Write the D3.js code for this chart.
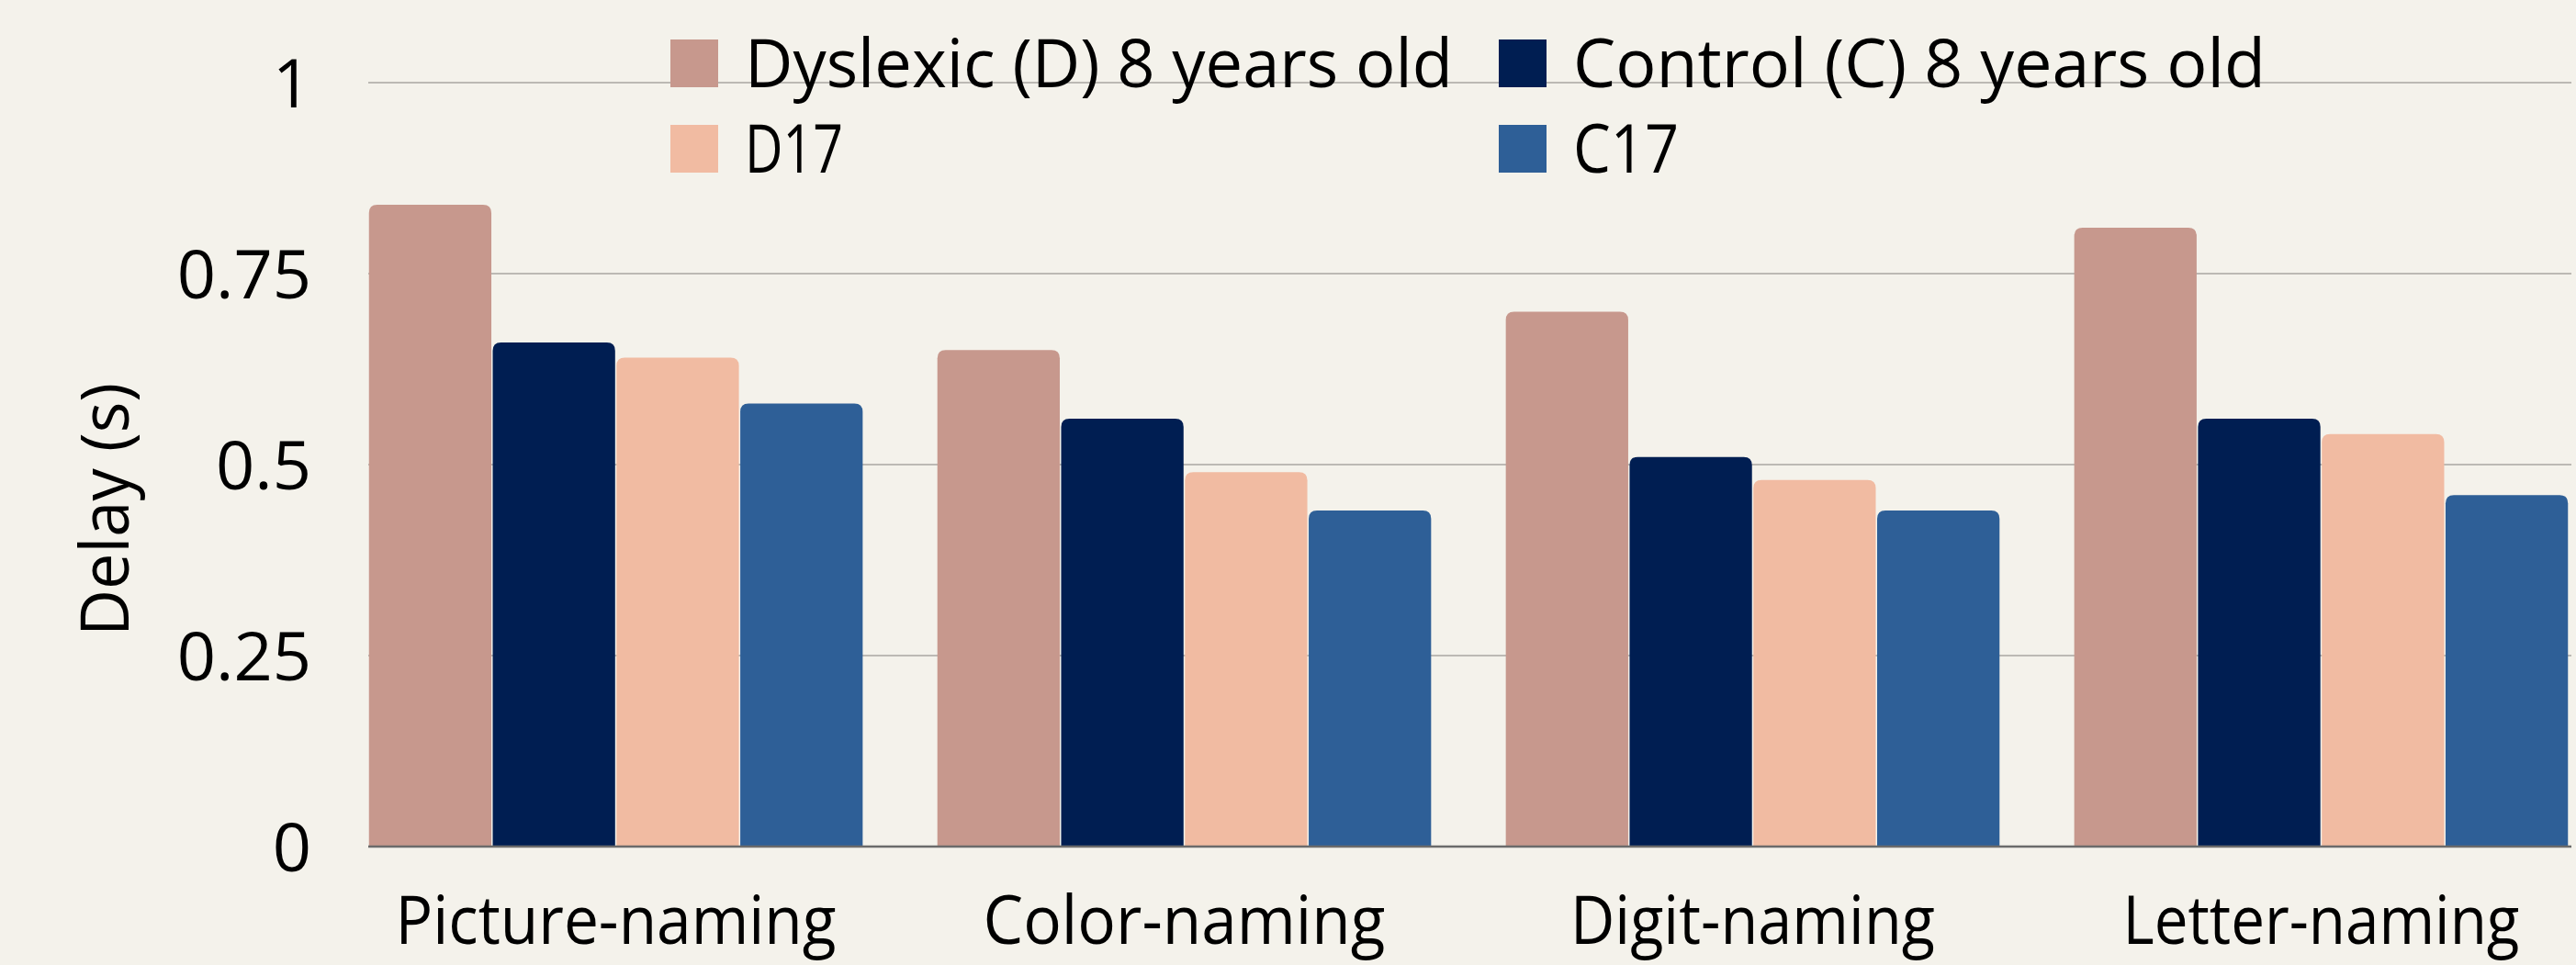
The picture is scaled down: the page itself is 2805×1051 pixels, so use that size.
<!DOCTYPE html>
<html>
<head>
<meta charset="utf-8">
<script src="https://cdn.jsdelivr.net/npm/d3@7"></script>
<style>
  html, body { margin: 0; padding: 0; background: #F4F2EB; }
  svg text { font-family: "Open Sans", "DejaVu Sans", sans-serif; fill: #000; }
</style>
</head>
<body>
<svg id="chart"></svg>
<script>
// Naming delay by task and group
var tasks = ["Picture-naming", "Color-naming", "Digit-naming", "Letter-naming"];
var seriesNames = ["Dyslexic (D) 8 years old", "Control (C) 8 years old", "D17", "C17"];
var d8Values = [0.84, 0.65, 0.70, 0.81];
var c8Values = [0.66, 0.56, 0.51, 0.56];
var d17Values = [0.64, 0.49, 0.48, 0.54];
var c17Values = [0.58, 0.44, 0.44, 0.46];
var yTicks = [0, 0.25, 0.5, 0.75, 1];
var yTickLabels = ["0", "0.25", "0.5", "0.75", "1"];

var seriesValues = [d8Values, c8Values, d17Values, c17Values];
var colors = ["#C7988D", "#001E52", "#F1BBA2", "#2E5F97"];

var width = 2805;
var height = 1051;
var margin = {top: 90, right: 5, bottom: 129, left: 401};

var svg = d3.select("#chart")
            .attr("width", width)
            .attr("height", height);

svg.append("rect")
   .attr("width", width)
   .attr("height", height)
   .attr("fill", "#F4F2EB");

var x0 = d3.scaleBand()
           .domain(tasks)
           .range([margin.left, 2797])
           .paddingInner(0.129)
           .paddingOuter(0);

var x1 = d3.scaleBand()
           .domain(d3.range(seriesNames.length))
           .range([0, x0.bandwidth()])
           .padding(0);

var y = d3.scaleLinear()
          .domain([0, 1])
          .range([height - margin.bottom, margin.top]);

// gridlines
svg.append("g")
   .selectAll("line")
   .data(yTicks.slice(1))
   .enter().append("line")
   .attr("x1", margin.left)
   .attr("x2", width - margin.right)
   .attr("y1", d => y(d))
   .attr("y2", d => y(d))
   .attr("stroke", "#BCB9B4")
   .attr("stroke-width", 2);

// y axis labels
var yAxis = svg.append("g")
               .attr("transform", `translate(${margin.left - 62},0)`)
               .call(d3.axisLeft(y).tickValues(yTicks).tickFormat((d, i) => yTickLabels[i]).tickSize(0).tickPadding(0));
yAxis.select(".domain").remove();
yAxis.selectAll("text")
     .attr("font-size", 74)
     .attr("font-family", "'Open Sans', sans-serif")
     .attr("fill", "#000")
     .attr("dy", "0.36em");

// bars with rounded tops
function barPath(x, yTop, w, yBase) {
  var r = Math.min(9, (yBase - yTop) / 2);
  return `M${x},${yBase}V${yTop + r}Q${x},${yTop} ${x + r},${yTop}H${x + w - r}Q${x + w},${yTop} ${x + w},${yTop + r}V${yBase}Z`;
}

var groups = svg.append("g")
                .selectAll("g")
                .data(tasks)
                .enter().append("g")
                .attr("transform", d => `translate(${x0(d)},0)`);

groups.selectAll("path")
      .data((d, i) => seriesValues.map((vals, s) => ({s: s, v: vals[i]})))
      .enter().append("path")
      .attr("fill", d => colors[d.s])
      .attr("d", d => barPath(x1(d.s) + 0.75, y(d.v), x1.bandwidth() - 1.5, y(0)));

// baseline
svg.append("line")
   .attr("x1", margin.left)
   .attr("x2", width - margin.right)
   .attr("y1", y(0))
   .attr("y2", y(0))
   .attr("stroke", "#6B6B6B")
   .attr("stroke-width", 2.5);

// x labels
var xLabelWidths = [480, 438, 397, 432];
svg.append("g")
   .selectAll("text")
   .data(tasks)
   .enter().append("text")
   .attr("x", d => x0(d) + x0.bandwidth() / 2)
   .attr("y", 1028)
   .attr("text-anchor", "middle")
   .attr("font-size", 74)
   .attr("textLength", (d, i) => xLabelWidths[i])
   .attr("lengthAdjust", "spacingAndGlyphs")
   .text(d => d);

// y title
svg.append("text")
   .attr("transform", "translate(140,555) rotate(-90)")
   .attr("text-anchor", "middle")
   .attr("font-size", 74)
   .attr("textLength", 276)
   .attr("lengthAdjust", "spacingAndGlyphs")
   .text("Delay (s)");

// legend
var legendPos = [[730, 43], [1632, 43], [730, 136], [1632, 136]];
var legendWidths = [771, 754, 107, 115];
var legend = svg.append("g")
                .selectAll("g")
                .data(seriesNames)
                .enter().append("g")
                .attr("transform", (d, i) => `translate(${legendPos[i][0]},${legendPos[i][1]})`);

legend.append("rect")
      .attr("width", 52)
      .attr("height", 52)
      .attr("fill", (d, i) => colors[i]);

legend.append("text")
      .attr("x", 81)
      .attr("y", 52)
      .attr("font-size", 74)
      .attr("textLength", (d, i) => legendWidths[i])
      .attr("lengthAdjust", "spacingAndGlyphs")
      .text(d => d);
</script>
</body>
</html>
